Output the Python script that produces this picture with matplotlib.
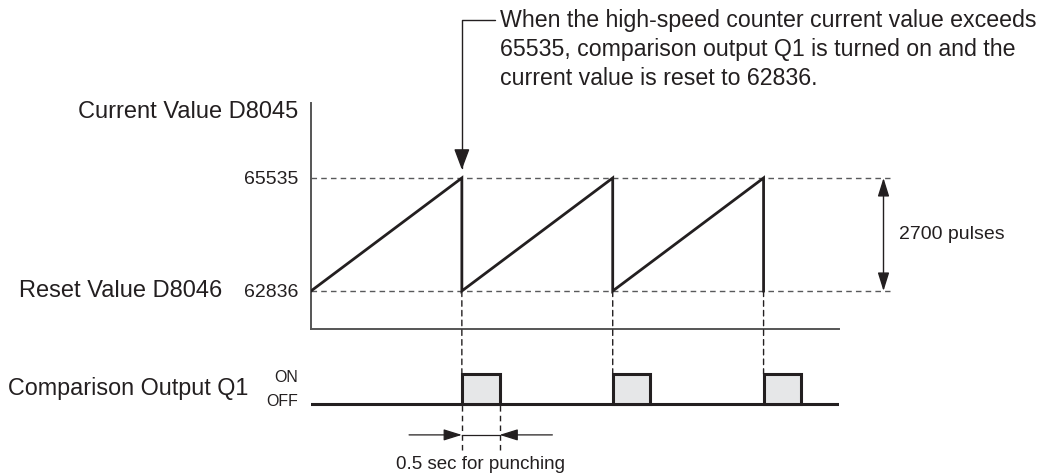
import matplotlib
matplotlib.use("Agg")
import matplotlib.pyplot as plt
from matplotlib.patches import ConnectionPatch

plt.rcParams['font.family'] = ['Liberation Sans', 'DejaVu Sans']

# counter values
reset_value = 62836
max_value = 65535
# times (sec) at which the counter exceeds 65535 and is reset
reset_times = [2, 4, 6]
pulse_width = 0.5
t_end = 7

saw_t = [0]
saw_v = [reset_value]
for t in reset_times:
    saw_t += [t, t]
    saw_v += [max_value, reset_value]

ink = '#231f20'
grey = '#58595b'

W, H = 1047, 475
fig = plt.figure(figsize=(W / 100, H / 100), dpi=100)

# top chart: current value
ax1 = fig.add_axes([311 / W, (H - 329) / H, 528 / W, 226 / H])
ax1.set_xlim(0, t_end)
ax1.set_ylim(61928, 67326)
ax1.plot(saw_t, saw_v, color=ink, lw=2.0, solid_joinstyle='miter', zorder=3)
for v in (reset_value, max_value):
    ax1.plot([0, 7.67], [v, v], color=grey, lw=1.0, ls=(0, (4, 3)), clip_on=False)

for s in ('top', 'right'):
    ax1.spines[s].set_visible(False)
for s in ('left', 'bottom'):
    ax1.spines[s].set_color('#555555')
    ax1.spines[s].set_linewidth(1.4)
ax1.set_xticks([])
ax1.set_yticks([reset_value, max_value])
ax1.set_yticklabels([str(reset_value), str(max_value)])
ax1.tick_params(axis='y', length=0, pad=9, labelsize=14, labelcolor=ink)

ax1.annotate('Current Value D8045', xy=(0, 1), xycoords='axes fraction',
             xytext=(-13, -9), textcoords='offset pixels',
             ha='right', va='center', fontsize=17, color=ink)
ax1.annotate('Reset Value D8046', xy=(0, reset_value),
             xycoords=('axes fraction', 'data'),
             xytext=(-89, 0), textcoords='offset pixels',
             ha='right', va='center', fontsize=17, color=ink)

# 2700 pulses span
ax1.annotate('', xy=(7.59, max_value), xytext=(7.59, reset_value),
             arrowprops=dict(arrowstyle='<|-|>,head_length=0.8,head_width=0.25',
                             color=ink, lw=1.0, shrinkA=0, shrinkB=0,
                             mutation_scale=14), annotation_clip=False)
ax1.text(7.79, (reset_value + max_value) / 2, '2700 pulses', ha='left',
         va='center', fontsize=14, color=ink, clip_on=False)

# callout at first reset
ax1.annotate('', xy=(reset_times[0], max_value), xytext=(33, 158),
             textcoords='offset pixels',
             arrowprops=dict(arrowstyle='-|>,head_length=0.8,head_width=0.3',
                             connectionstyle='angle,angleA=180,angleB=90,rad=0',
                             color=ink, lw=1.0, shrinkA=0, shrinkB=6,
                             mutation_scale=16), annotation_clip=False)
ax1.annotate('When the high-speed counter current value exceeds\n'
             '65535, comparison output Q1 is turned on and the\n'
             'current value is reset to 62836.',
             xy=(reset_times[0], max_value), xytext=(38, 169),
             textcoords='offset pixels', ha='left', va='top',
             fontsize=16.7, color=ink, linespacing=1.32, annotation_clip=False)

# bottom chart: comparison output Q1
ax2 = fig.add_axes([311 / W, 0, 528 / W, (H - 329) / H])
ax2.set_xlim(0, t_end)
ax2.set_ylim(-2.367, 2.5)
ax2.axis('off')
ax2.plot([-0.04, t_end + 0.01], [0, 0], color=ink, lw=2.2, solid_capstyle='butt')
ax2.bar(reset_times, 1, width=pulse_width, align='edge', color='#e6e7e8',
        edgecolor=ink, lw=2.2, zorder=3)
ax2.text(-13 / 75.43, 0.87, 'ON', ha='right', va='center', fontsize=11.5, color=ink)
ax2.text(-13 / 75.43, 0.07, 'OFF', ha='right', va='center', fontsize=11.5, color=ink)
ax2.text(-63 / 75.43, 0.5, 'Comparison Output Q1', ha='right', va='center',
         fontsize=16.8, color=ink)

for t in reset_times:
    con = ConnectionPatch(xyA=(t, reset_value), coordsA=ax1.transData,
                          xyB=(t, 1), coordsB=ax2.transData,
                          color=ink, lw=1.0, ls=(0, (4, 3)), zorder=1)
    fig.add_artist(con)

# 0.5 sec width marker under the first pulse
t0 = reset_times[0]
t1 = t0 + pulse_width
ax2.vlines([t0, t1], -1.53, 0, color=ink, lw=1.0, ls=(0, (4, 3)))
y_arr = -1.03
ax2.plot([t0, t1], [y_arr, y_arr], color=ink, lw=0.9)
for a, b in ((t0 - 0.7, t0), (t1 + 0.7, t1)):
    ax2.annotate('', xy=(b, y_arr), xytext=(a, y_arr),
                 arrowprops=dict(arrowstyle='-|>,head_length=0.8,head_width=0.25',
                                 color=ink, lw=0.9, shrinkA=0, shrinkB=0,
                                 mutation_scale=14))
ax2.text((t0 + t1) / 2, -2.03, '0.5 sec for punching', ha='center',
         va='center', fontsize=13.5, color=ink)

fig.savefig('out.png', dpi=100)
